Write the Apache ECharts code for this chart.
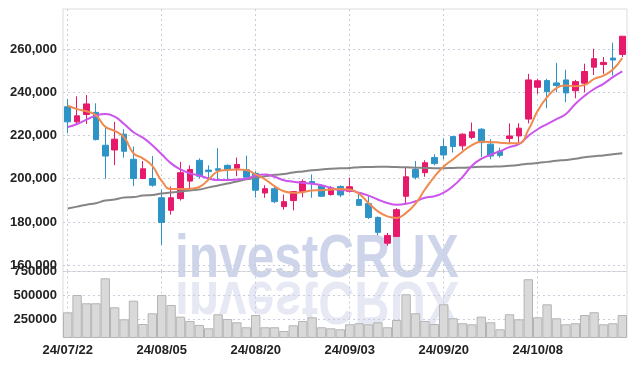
<!DOCTYPE html>
<html>
<head>
<meta charset="utf-8">
<script src="https://cdn.jsdelivr.net/npm/echarts@6/dist/echarts.min.js"></script>
<style>html,body{margin:0;padding:0;background:#fff}#c{width:637px;height:366px}</style>
</head>
<body>
<div id="c"></div>
<script>
const dates = ['24/07/22','24/07/23','24/07/24','24/07/25','24/07/26','24/07/29','24/07/30','24/07/31','24/08/01','24/08/02',
'24/08/05','24/08/06','24/08/07','24/08/08','24/08/09','24/08/12','24/08/13','24/08/14','24/08/16','24/08/19',
'24/08/20','24/08/21','24/08/22','24/08/23','24/08/26','24/08/27','24/08/28','24/08/29','24/08/30','24/09/02',
'24/09/03','24/09/04','24/09/05','24/09/06','24/09/09','24/09/10','24/09/11','24/09/12','24/09/13','24/09/19',
'24/09/20','24/09/23','24/09/24','24/09/25','24/09/26','24/09/27','24/09/30','24/10/02','24/10/04','24/10/07',
'24/10/08','24/10/10','24/10/11','24/10/14','24/10/15','24/10/16','24/10/17','24/10/18','24/10/21','24/10/22'];

const opens = [233300,226300,229700,230700,215500,213300,220600,209000,200100,200100,
191200,185400,190800,198900,208500,204000,204600,206200,204900,204200,
202500,193400,195400,187100,189900,194100,198700,196900,192700,196400,
194200,190400,188500,182100,170200,173300,191900,204300,202800,209800,
214900,219500,215200,219100,222900,216000,212800,218600,219800,227600,
242300,245400,244300,245700,240700,244200,251600,252800,255800,257500];
const closes = [226300,229100,234600,218100,210500,218300,212700,200100,204600,197000,
179800,191200,202800,204300,201200,203300,203900,204300,206600,200700,
194700,195400,189400,189400,194100,198700,198000,191900,195700,192500,
196300,187700,182100,175200,173800,185700,200900,200700,207400,207000,
211000,214900,220600,221700,216700,210500,210800,219800,223400,245700,
245300,240300,243100,239700,244900,249600,255500,253800,254900,265900];
const lows = [221100,224800,225300,217700,200000,206300,209700,196600,199800,196300,
169400,183400,189900,195000,200100,199700,198900,198900,201200,200500,
191300,191200,188700,185700,185400,191400,191200,191600,192200,191500,
193600,187400,181400,173800,169000,173200,188100,199700,200900,206200,
209000,212100,213200,218300,210100,209000,209800,216000,216700,225600,
239200,232600,240000,235400,237200,240000,248000,248500,247700,256300];
const highs = [236900,238100,238700,234900,224500,226300,222900,214900,208200,210500,
195000,196400,207800,206200,209400,206200,214100,206600,209800,210700,
203400,197000,196300,192700,194300,199700,202000,197400,196600,196900,
200500,193200,192000,182600,174900,186400,205100,208200,208500,211300,
218700,219700,221000,226000,223500,218300,214400,225600,225700,248500,
246200,246200,253600,250400,245700,253200,260100,256300,262900,265900];

const ma5 = [233800,232200,231200,229400,224000,222100,219100,211800,209400,205900,
199000,195200,195200,195400,196200,199700,203400,204000,204300,204000,
202000,199700,196600,194200,193500,193800,194600,194700,195000,195300,
195000,193000,188800,184900,182600,181900,184200,188500,195000,200900,
205700,209000,212500,215500,217100,217000,216700,216400,216400,222500,
231400,237700,241900,243100,242800,243400,246200,247700,250500,255800];
const ma10 = [223900,225300,227300,229200,229900,228700,225300,221500,219000,215500,
211300,207100,204300,202500,201500,200100,199400,199400,199700,200000,
201500,202000,200900,199300,198600,198100,197700,197000,195800,194700,
194600,193500,192200,190400,188800,188000,188400,189600,191200,191900,
193600,196600,200800,206000,209200,211100,212800,214600,216000,219800,
222900,225300,227600,229900,234600,238400,241500,243900,247000,249600];
const ma60 = [186200,187100,188000,188700,189900,190400,191300,191500,192200,192500,
193200,193600,194100,194600,195000,196000,196900,197800,198700,199700,
200400,201100,201800,202200,202900,203400,203900,204300,204600,204800,
205000,205300,205400,205500,205500,205400,205300,205100,205000,204900,
204900,205000,205100,205300,205500,205600,205700,206000,206400,206900,
207300,207800,208300,208700,209200,209900,210400,210800,211300,211800];

const volumes = [323000,504000,418000,418000,679000,376000,250000,445000,201000,313000,
504000,400000,278000,233000,191000,156000,303000,253000,219000,167000,
295000,167000,167000,128000,188000,233000,271000,167000,156000,146000,
198000,209000,198000,219000,167000,243000,512000,313000,233000,201000,
407000,261000,209000,198000,278000,219000,146000,303000,250000,669000,
271000,407000,261000,198000,209000,295000,324000,198000,209000,295000];

const priceTicks = [160000,180000,200000,220000,240000,260000];
const volTicks = [250000,500000,750000];
const watermark = 'investCRUX';

const candleData = dates.map((d, i) => [opens[i], closes[i], lows[i], highs[i]]);

const FONT = '"Liberation Sans",Arial,sans-serif';
const gridDash = { color: '#c9ccdb', type: [2, 3], width: 1 };
const labelStyle = { fontFamily: FONT, fontSize: 13, fontWeight: 'bold', color: '#222' };

const chart = echarts.init(document.getElementById('c'), null, { renderer: 'canvas' });
chart.setOption({
  animation: false,
  backgroundColor: '#fff',
  grid: [
    { left: 63, right: 10, top: 9, height: 262.5, show: true, borderColor: '#dcdcdc', borderWidth: 1 },
    { left: 63, right: 10, top: 271.5, height: 66, show: true, borderColor: '#dcdcdc', borderWidth: 1 }
  ],
  graphic: [
    {
      type: 'text', z: -10, x: 175, y: 229, scaleX: 0.8, silent: true,
      style: { text: watermark, font: 'bold 62px ' + FONT, fill: 'rgba(190,199,228,0.75)', verticalAlign: 'top' }
    },
    {
      type: 'text', z: -10, x: 175, y: 330, scaleX: 0.8, scaleY: -1, silent: true,
      style: { text: watermark, font: 'bold 62px ' + FONT, fill: 'rgba(205,211,233,0.5)', verticalAlign: 'top' }
    }
  ],
  xAxis: [
    {
      type: 'category', data: dates, gridIndex: 0, boundaryGap: true,
      axisLine: { show: false }, axisTick: { show: false }, axisLabel: { show: false },
      splitLine: { show: true, interval: 9, alignWithLabel: true, lineStyle: gridDash }
    },
    {
      type: 'category', data: dates, gridIndex: 1, boundaryGap: true,
      axisLine: { show: false }, axisTick: { show: false },
      axisLabel: Object.assign({ interval: 9, margin: 6 }, labelStyle),
      splitLine: { show: true, interval: 9, alignWithLabel: true, lineStyle: gridDash }
    }
  ],
  yAxis: [
    {
      type: 'value', gridIndex: 0, min: 157100, max: 278500,
      axisLine: { show: false }, axisTick: { show: false, customValues: priceTicks },
      axisLabel: Object.assign({ customValues: priceTicks, margin: 6,
        formatter: v => Number(v).toLocaleString('en-US') }, labelStyle),
      splitLine: { show: true, lineStyle: gridDash }
    },
    {
      type: 'value', gridIndex: 1, min: 60000, max: 750000,
      axisLine: { show: false }, axisTick: { show: false, customValues: volTicks },
      axisLabel: Object.assign({ customValues: volTicks, margin: 6, formatter: v => String(v) }, labelStyle),
      splitLine: { show: true, lineStyle: gridDash }
    }
  ],
  series: [
    {
      type: 'candlestick', xAxisIndex: 0, yAxisIndex: 0, data: candleData, barWidth: '64%',
      itemStyle: { color: '#e6196b', color0: '#2e94c8', borderColor: '#e6196b', borderColor0: '#2e94c8', borderWidth: 1 }
    },
    { type: 'line', xAxisIndex: 0, yAxisIndex: 0, data: ma60, smooth: true, symbol: 'none',
      lineStyle: { color: '#858585', width: 2 } },
    { type: 'line', xAxisIndex: 0, yAxisIndex: 0, data: ma10, smooth: true, symbol: 'none',
      lineStyle: { color: '#cc55ec', width: 2 } },
    { type: 'line', xAxisIndex: 0, yAxisIndex: 0, data: ma5, smooth: true, symbol: 'none',
      lineStyle: { color: '#f08a4e', width: 2 } },
    {
      type: 'bar', xAxisIndex: 1, yAxisIndex: 1, data: volumes, barCategoryGap: '0%',
      itemStyle: { color: '#d9d9d9', borderColor: '#b4b4b4', borderWidth: 1 }
    }
  ]
});
</script>
</body>
</html>
